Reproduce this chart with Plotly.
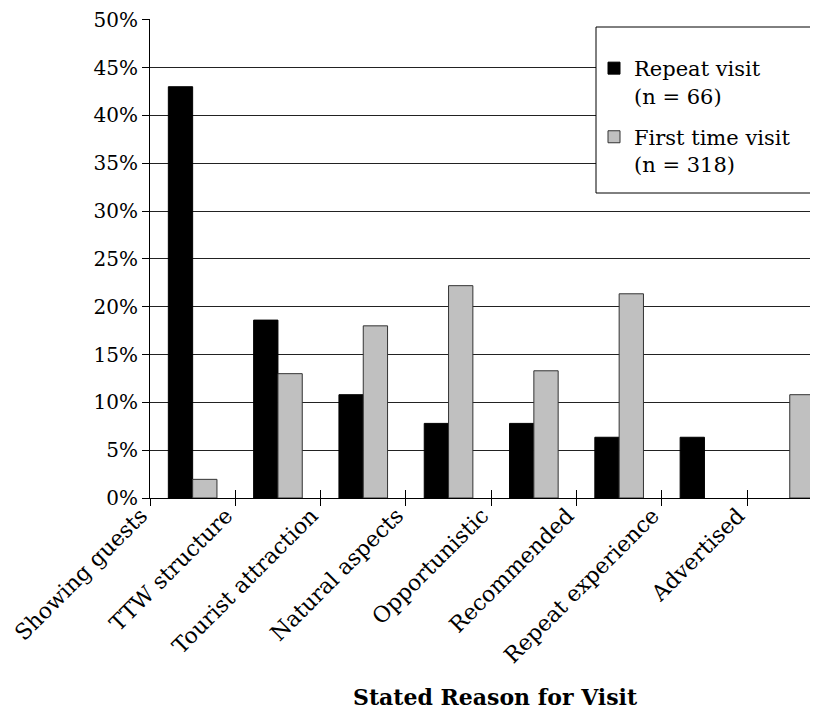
import plotly.graph_objects as go

categories = ["Showing guests", "TTW structure", "Tourist attraction", "Natural aspects",
              "Opportunistic", "Recommended", "Repeat experience", "Advertised"]
repeat_visit = [43.0, 18.6, 10.8, 7.8, 7.8, 6.35, 6.35, None]
first_visit = [1.95, 13.0, 18.0, 22.2, 13.3, 21.35, None, 10.8]
series_names = ["Repeat visit<br>(n = 66)", "First time visit<br>(n = 318)"]
y_ticks = list(range(0, 55, 5))

# page has an 8px body margin, so figure coords = screen coords - 8
OFF = 8
W, H = 818 - OFF, 719 - OFF
L, R, T, B = 150 - OFF, 0, 19 - OFF, 719 - 498
plot_w = W - L - R
plot_h = H - T - B
px_per_cat = 85.3


def px_x(sx):
    return (sx - OFF - L) / plot_w


def px_y(sy):
    return (H - B - (sy - OFF)) / plot_h


x_idx = list(range(len(categories)))
font_fam = "DejaVu Serif"

fig = go.Figure()
fig.add_trace(go.Bar(x=x_idx, y=repeat_visit, name=series_names[0], legendgroup="a",
                     marker=dict(color="#000000", line=dict(color="#000000", width=1))))
fig.add_trace(go.Bar(x=x_idx, y=first_visit, name=series_names[1], legendgroup="b",
                     marker=dict(color="#C0C0C0", line=dict(color="#333333", width=1))))
# invisible trace on an overlay x axis, used only to draw inside tick marks
fig.add_trace(go.Scatter(x=[x_idx[0]], y=[0], xaxis="x2", mode="markers",
                         marker=dict(opacity=0), showlegend=False, hoverinfo="skip"))

x_range = [-0.5, -0.5 + plot_w / px_per_cat]
tickvals = [i - 0.5 for i in x_idx]

fig.update_layout(
    width=W, height=H,
    margin=dict(l=L, r=R, t=T, b=B),
    paper_bgcolor="white", plot_bgcolor="white",
    barmode="group", bargap=0.43, bargroupgap=0,
    font=dict(family=font_fam, size=21, color="#000000"),
    xaxis=dict(range=x_range, tickmode="array", tickvals=tickvals, ticktext=categories,
               tickangle=-45, ticks="outside", ticklen=7, tickcolor="#000000",
               showgrid=False, zeroline=False, showline=True, linecolor="#000000",
               linewidth=1, tickfont=dict(family=font_fam, size=22),
               ticklabelstandoff=-12, ticklabelshift=-9, ticklabeloverflow="allow"),
    xaxis2=dict(range=x_range, overlaying="x", tickmode="array", tickvals=tickvals,
                showticklabels=False, ticks="inside", ticklen=8, tickcolor="#000000",
                showgrid=False, zeroline=False, showline=False, side="bottom",
                anchor="y"),
    yaxis=dict(range=[0, 50.08], tickmode="array", tickvals=y_ticks,
               ticktext=[f"{v}%" for v in y_ticks],
               ticks="outside", ticklen=7, tickcolor="#000000",
               showgrid=True, gridcolor="#222222", gridwidth=1,
               zeroline=False, showline=True, linecolor="#000000", linewidth=1,
               tickfont=dict(family=font_fam, size=20), ticklabeloverflow="allow"),
    legend=dict(x=px_x(594), y=px_y(48), xanchor="left", yanchor="top",
                bgcolor="rgba(0,0,0,0)", borderwidth=0, valign="top",
                font=dict(family=font_fam, size=21), tracegroupgap=11),
    shapes=[dict(type="rect", xref="paper", yref="paper",
                 x0=px_x(596), x1=px_x(816), y0=px_y(193), y1=px_y(27),
                 line=dict(color="#000000", width=1), fillcolor="white", layer="above")],
    annotations=[dict(text="<b>Stated Reason for Visit</b>", xref="paper", yref="paper",
                      x=px_x(495), y=px_y(697),
                      xanchor="center", yanchor="middle", showarrow=False,
                      font=dict(family=font_fam, size=22))],
)

fig.write_html("out.html")
